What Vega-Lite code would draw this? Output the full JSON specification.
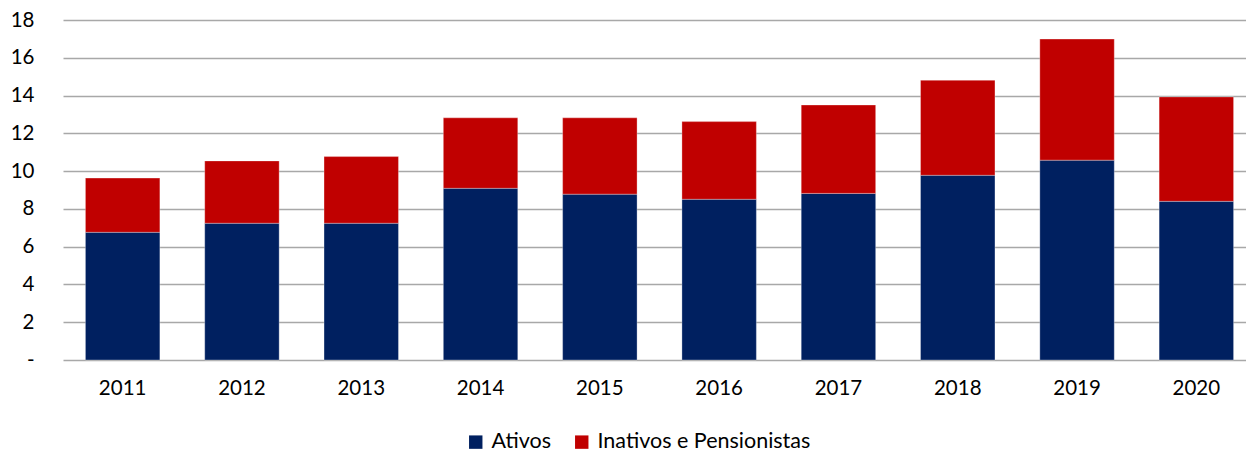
{
  "$schema": "https://vega.github.io/schema/vega-lite/v6.json",
  "autosize": "none",
  "width": 1193,
  "height": 340,
  "padding": {"left": 63, "top": 20, "right": 0, "bottom": 92},
  "background": "white",
  "config": {"view": {"stroke": null}, "font": "Lato"},
  "data": {"values": [
    {"ano": "2011", "serie": "Ativos", "valor": 6.76, "ord": 1},
    {"ano": "2011", "serie": "Inativos e Pensionistas", "valor": 2.87, "ord": 2},
    {"ano": "2012", "serie": "Ativos", "valor": 7.24, "ord": 1},
    {"ano": "2012", "serie": "Inativos e Pensionistas", "valor": 3.30, "ord": 2},
    {"ano": "2013", "serie": "Ativos", "valor": 7.24, "ord": 1},
    {"ano": "2013", "serie": "Inativos e Pensionistas", "valor": 3.53, "ord": 2},
    {"ano": "2014", "serie": "Ativos", "valor": 9.09, "ord": 1},
    {"ano": "2014", "serie": "Inativos e Pensionistas", "valor": 3.73, "ord": 2},
    {"ano": "2015", "serie": "Ativos", "valor": 8.78, "ord": 1},
    {"ano": "2015", "serie": "Inativos e Pensionistas", "valor": 4.04, "ord": 2},
    {"ano": "2016", "serie": "Ativos", "valor": 8.51, "ord": 1},
    {"ano": "2016", "serie": "Inativos e Pensionistas", "valor": 4.11, "ord": 2},
    {"ano": "2017", "serie": "Ativos", "valor": 8.82, "ord": 1},
    {"ano": "2017", "serie": "Inativos e Pensionistas", "valor": 4.68, "ord": 2},
    {"ano": "2018", "serie": "Ativos", "valor": 9.78, "ord": 1},
    {"ano": "2018", "serie": "Inativos e Pensionistas", "valor": 5.03, "ord": 2},
    {"ano": "2019", "serie": "Ativos", "valor": 10.58, "ord": 1},
    {"ano": "2019", "serie": "Inativos e Pensionistas", "valor": 6.41, "ord": 2},
    {"ano": "2020", "serie": "Ativos", "valor": 8.40, "ord": 1},
    {"ano": "2020", "serie": "Inativos e Pensionistas", "valor": 5.53, "ord": 2}
  ]},
  "mark": {"type": "bar", "stroke": "white", "strokeWidth": 0.5, "strokeOpacity": 0.6},
  "encoding": {
    "x": {
      "field": "ano", "type": "nominal", "title": null,
      "scale": {"paddingInner": 0.376, "paddingOuter": 0.188},
      "axis": {"domain": false, "ticks": false, "labelAngle": 0, "labelFontSize": 20.5, "labelColor": "#000000", "labelPadding": 18}
    },
    "y": {
      "field": "valor", "type": "quantitative", "stack": "zero", "title": null,
      "scale": {"domain": [0, 18], "nice": false},
      "axis": {
        "values": [0, 2, 4, 6, 8, 10, 12, 14, 16, 18],
        "labelExpr": "datum.value == 0 ? '-' : datum.label",
        "domain": false, "ticks": false,
        "gridColor": "#A8A8A8", "gridWidth": 1.5,
        "labelFontSize": 20.5, "labelColor": "#000000", "labelPadding": 29
      }
    },
    "color": {
      "field": "serie", "type": "nominal",
      "scale": {"domain": ["Ativos", "Inativos e Pensionistas"], "range": ["#002060", "#C00000"]},
      "legend": {
        "title": null, "orient": "none", "legendX": 402, "legendY": 411, "direction": "horizontal",
        "symbolType": "square", "symbolSize": 180, "symbolStrokeWidth": 0, "symbolOpacity": 1,
        "labelFontSize": 21.5, "labelColor": "#000000", "labelLimit": 400, "columnPadding": 20, "labelOffset": 5
      }
    },
    "order": {"field": "ord", "type": "quantitative"}
  }
}
